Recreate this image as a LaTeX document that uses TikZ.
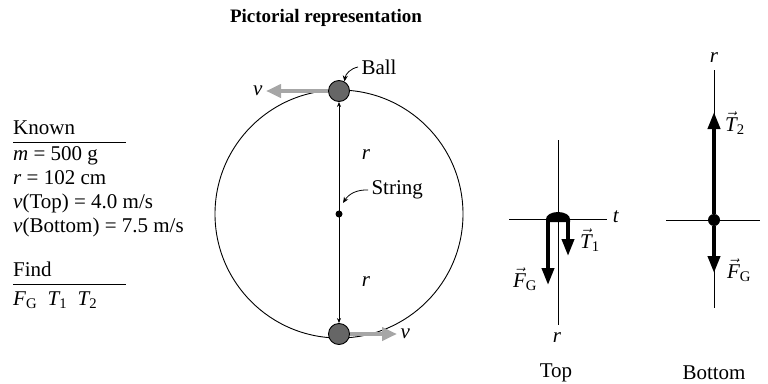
\documentclass[tikz,border=0pt]{standalone}
\usepackage{amsmath}
\usepackage{fontspec}
\setmainfont{Liberation Serif}
\usetikzlibrary{arrows.meta}

\newcommand{\vT}[1]{$\vec{\textit{T}}_{\text{#1}}$}
\newcommand{\vFG}{$\vec{\textit{F}}_{\text{G}}$}

\tikzset{
  ball/.style={circle,draw,fill=black!60,minimum size=21pt,inner sep=0pt,line width=0.9pt},
  dot/.style={circle,fill,minimum size=#1,inner sep=0pt},
  velocity/.style={line width=4.5pt,black!35,-{Triangle[length=15pt,width=13pt]}},
  force/.style={line width=3.8pt,-{Triangle[length=17pt,width=12pt]}},
  pointer/.style={line width=0.8pt,-{Stealth[length=6pt,width=5pt]}},
  axis/.style={line width=0.9pt},
}

\begin{document}
\begin{tikzpicture}[x=1pt,y=-1pt,font=\fontsize{21}{25}\selectfont]
\useasboundingbox (0,0) rectangle (768,383);

\node[font=\fontsize{19}{23}\selectfont\bfseries] (title) at (326,18) {Pictorial representation};

%%%%%%%%%%% known / find
\node[anchor=base west,inner sep=0pt] (known) at (13,134) {Known};
\draw[axis] (13,142) -- (126,142);
\node[anchor=base west,inner sep=0pt] (k1) at (13,160) {\textit{m} = 500 g};
\node[anchor=base west,inner sep=0pt] (k2) at (13,184) {\textit{r} = 102 cm};
\node[anchor=base west,inner sep=0pt] (k3) at (13,208) {\textit{v}(Top) = 4.0 m/s};
\node[anchor=base west,inner sep=0pt] (k4) at (13,232) {\textit{v}(Bottom) = 7.5 m/s};
\node[anchor=base west,inner sep=0pt] (find) at (13,276) {Find};
\draw[axis] (13,284) -- (126,284);
\node[anchor=base west,inner sep=0pt] (f1) at (13,305) {$\textit{F}_{\text{G}}$\enspace$\textit{T}_{\text{1}}$\enspace$\textit{T}_{\text{2}}$};

%%%%%%%%%%% circular path
\draw[axis] (339,214) circle(124);
\node[ball] (ballT) at (339,91) {};
\node[ball] (ballB) at (339,334) {};
\node[dot=7pt] (ctr) at (339,214) {};
\coordinate (strTip) at (343,203);
\draw[line width=0.7pt,{Stealth[length=5pt,width=4pt]}-{Stealth[length=5pt,width=4pt]}] (ballT) -- (ballB);
\node (rUp) at (366,155) {\textit{r}};
\node (rDown) at (366,282) {\textit{r}};
% ---------------    velocities
\coordinate (vT) at (266,91);
\coordinate (vB) at (397,334);
\draw[velocity] (ballT) -- (vT);
\draw[velocity] (ballB) -- (vB);
\node[left] (vTlab) at (vT) {\textit{v}};
\node[right] (vBlab) at (vB) {\textit{v}};
% ---------------    pointers
\node[anchor=west] (ballLab) at (358,67) {Ball};
\draw[pointer] (ballLab.west) to[bend right=35] (ballT.60);
\node[anchor=west] (strLab) at (368,190) {String};
\draw[pointer] (strLab.west) to[bend right=30] (strTip);

%%%%%%%%%%% free-body diagram: top
\draw[axis] (558,140) -- (558,325);
\draw[axis] (509,219) -- (607,219);
\node (tLab) at (616,217) {\textit{t}};
\node (rTop) at (557,338) {\textit{r}};
\fill (546,222) -- (546,219) arc[start angle=180,end angle=0,x radius=12pt,y radius=7pt] -- (570,222) -- cycle;
\coordinate (fgT) at (548,285);
\coordinate (t1T) at (568,256);
\draw[force] (548,219) -- (fgT);
\draw[force] (568,219) -- (t1T);
\node (fgTlab) at (525,279) {\vFG};
\node (t1Tlab) at (590,240) {\vT{1}};
\node (topLab) at (556,373) {Top};

%%%%%%%%%%% free-body diagram: bottom
\draw[axis] (714,70) -- (714,308);
\draw[axis] (666,220) -- (760,220);
\node (rBot) at (714,58) {\textit{r}};
\node[dot=12pt] (ballBot) at (714,220) {};
\coordinate (t2B) at (714,112);
\coordinate (fgB) at (714,273);
\draw[force] (ballBot) -- (t2B);
\draw[force] (ballBot) -- (fgB);
\node (t2Blab) at (735,123) {\vT{2}};
\node (fgBlab) at (739,270) {\vFG};
\node (botLab) at (714,373) {Bottom};
\end{tikzpicture}
\end{document}
